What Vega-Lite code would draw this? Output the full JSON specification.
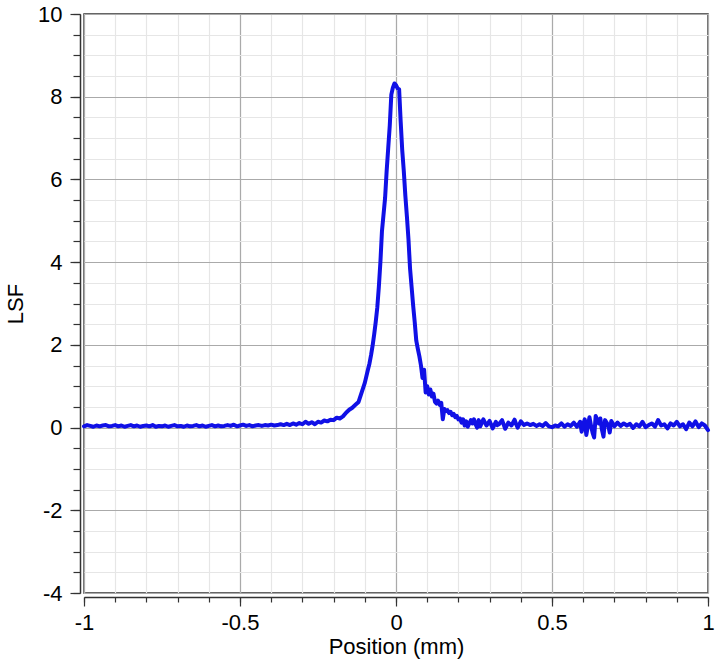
{
  "$schema": "https://vega.github.io/schema/vega-lite/v6.json",
  "width": 624,
  "height": 579,
  "autosize": {"type": "none"},
  "padding": {"left": 84, "top": 14, "right": 7, "bottom": 71},
  "background": "white",
  "config": {
    "view": {"stroke": "#333333", "strokeWidth": 1.5},
    "axis": {
      "labelFont": "Liberation Sans",
      "titleFont": "Liberation Sans",
      "labelFontSize": 22,
      "titleFontSize": 22,
      "titleFontWeight": "normal",
      "labelColor": "#000000",
      "titleColor": "#000000",
      "tickColor": "#333333",
      "domainColor": "#333333",
      "tickWidth": 1.2,
      "domainWidth": 1.5
    }
  },
  "data": {
    "values": [
      {"x": -1.00, "y": 0.03}, {"x": -0.99, "y": 0.06}, {"x": -0.98, "y": 0.04}, {"x": -0.97, "y": 0.02},
      {"x": -0.96, "y": 0.05}, {"x": -0.95, "y": 0.03}, {"x": -0.94, "y": 0.05}, {"x": -0.93, "y": 0.06},
      {"x": -0.92, "y": 0.03}, {"x": -0.91, "y": 0.04}, {"x": -0.90, "y": 0.06}, {"x": -0.89, "y": 0.03},
      {"x": -0.88, "y": 0.05}, {"x": -0.87, "y": 0.02}, {"x": -0.86, "y": 0.04}, {"x": -0.85, "y": 0.06},
      {"x": -0.84, "y": 0.03}, {"x": -0.83, "y": 0.05}, {"x": -0.82, "y": 0.02}, {"x": -0.81, "y": 0.04},
      {"x": -0.80, "y": 0.05}, {"x": -0.79, "y": 0.03}, {"x": -0.78, "y": 0.06}, {"x": -0.77, "y": 0.02},
      {"x": -0.76, "y": 0.04}, {"x": -0.75, "y": 0.03}, {"x": -0.74, "y": 0.05}, {"x": -0.73, "y": 0.02},
      {"x": -0.72, "y": 0.04}, {"x": -0.71, "y": 0.06}, {"x": -0.70, "y": 0.03}, {"x": -0.69, "y": 0.04},
      {"x": -0.68, "y": 0.02}, {"x": -0.67, "y": 0.05}, {"x": -0.66, "y": 0.03}, {"x": -0.65, "y": 0.04},
      {"x": -0.64, "y": 0.06}, {"x": -0.63, "y": 0.03}, {"x": -0.62, "y": 0.05}, {"x": -0.61, "y": 0.02},
      {"x": -0.60, "y": 0.04}, {"x": -0.59, "y": 0.06}, {"x": -0.58, "y": 0.03}, {"x": -0.57, "y": 0.05},
      {"x": -0.56, "y": 0.03}, {"x": -0.55, "y": 0.04}, {"x": -0.54, "y": 0.06}, {"x": -0.53, "y": 0.04},
      {"x": -0.52, "y": 0.07}, {"x": -0.51, "y": 0.03}, {"x": -0.50, "y": 0.05}, {"x": -0.49, "y": 0.07},
      {"x": -0.48, "y": 0.04}, {"x": -0.47, "y": 0.06}, {"x": -0.46, "y": 0.03}, {"x": -0.45, "y": 0.05},
      {"x": -0.44, "y": 0.06}, {"x": -0.43, "y": 0.04}, {"x": -0.42, "y": 0.06}, {"x": -0.41, "y": 0.05},
      {"x": -0.40, "y": 0.07}, {"x": -0.39, "y": 0.05}, {"x": -0.38, "y": 0.06}, {"x": -0.37, "y": 0.08},
      {"x": -0.36, "y": 0.06}, {"x": -0.35, "y": 0.09}, {"x": -0.34, "y": 0.06}, {"x": -0.33, "y": 0.10},
      {"x": -0.32, "y": 0.07}, {"x": -0.31, "y": 0.11}, {"x": -0.30, "y": 0.08}, {"x": -0.29, "y": 0.14},
      {"x": -0.28, "y": 0.09}, {"x": -0.27, "y": 0.13}, {"x": -0.26, "y": 0.08}, {"x": -0.25, "y": 0.14},
      {"x": -0.24, "y": 0.12}, {"x": -0.23, "y": 0.17}, {"x": -0.22, "y": 0.15}, {"x": -0.21, "y": 0.19},
      {"x": -0.20, "y": 0.18}, {"x": -0.19, "y": 0.24}, {"x": -0.18, "y": 0.22}, {"x": -0.17, "y": 0.27},
      {"x": -0.16, "y": 0.36}, {"x": -0.15, "y": 0.43}, {"x": -0.14, "y": 0.48}, {"x": -0.13, "y": 0.55},
      {"x": -0.12, "y": 0.62}, {"x": -0.11, "y": 0.85}, {"x": -0.10, "y": 1.08}, {"x": -0.09, "y": 1.40},
      {"x": -0.085, "y": 1.55}, {"x": -0.08, "y": 1.75}, {"x": -0.075, "y": 1.98}, {"x": -0.07, "y": 2.25},
      {"x": -0.065, "y": 2.55}, {"x": -0.06, "y": 2.90}, {"x": -0.055, "y": 3.40}, {"x": -0.05, "y": 4.00},
      {"x": -0.045, "y": 4.75}, {"x": -0.04, "y": 5.15}, {"x": -0.035, "y": 5.55}, {"x": -0.03, "y": 6.20},
      {"x": -0.025, "y": 6.75}, {"x": -0.02, "y": 7.30}, {"x": -0.015, "y": 8.05}, {"x": -0.01, "y": 8.22},
      {"x": -0.005, "y": 8.32}, {"x": 0.000, "y": 8.28}, {"x": 0.005, "y": 8.20}, {"x": 0.010, "y": 8.18},
      {"x": 0.015, "y": 7.40}, {"x": 0.020, "y": 6.70}, {"x": 0.025, "y": 6.20}, {"x": 0.030, "y": 5.60},
      {"x": 0.035, "y": 5.10}, {"x": 0.040, "y": 4.55}, {"x": 0.045, "y": 3.85}, {"x": 0.050, "y": 3.40},
      {"x": 0.055, "y": 2.95}, {"x": 0.060, "y": 2.55}, {"x": 0.065, "y": 2.10}, {"x": 0.070, "y": 1.90},
      {"x": 0.075, "y": 1.72}, {"x": 0.080, "y": 1.50}, {"x": 0.085, "y": 1.20}, {"x": 0.090, "y": 1.40},
      {"x": 0.095, "y": 0.85}, {"x": 0.100, "y": 1.00}, {"x": 0.105, "y": 0.80}, {"x": 0.110, "y": 0.92},
      {"x": 0.115, "y": 0.75}, {"x": 0.120, "y": 0.82}, {"x": 0.125, "y": 0.62}, {"x": 0.130, "y": 0.58},
      {"x": 0.135, "y": 0.65}, {"x": 0.140, "y": 0.55}, {"x": 0.145, "y": 0.60}, {"x": 0.150, "y": 0.20},
      {"x": 0.155, "y": 0.45}, {"x": 0.160, "y": 0.40}, {"x": 0.165, "y": 0.42}, {"x": 0.170, "y": 0.35},
      {"x": 0.175, "y": 0.38}, {"x": 0.180, "y": 0.30}, {"x": 0.185, "y": 0.33}, {"x": 0.190, "y": 0.25},
      {"x": 0.195, "y": 0.28}, {"x": 0.200, "y": 0.20}, {"x": 0.205, "y": 0.22}, {"x": 0.210, "y": 0.12},
      {"x": 0.215, "y": 0.20}, {"x": 0.220, "y": 0.05}, {"x": 0.225, "y": 0.15}, {"x": 0.230, "y": 0.02},
      {"x": 0.240, "y": 0.18}, {"x": 0.245, "y": 0.10}, {"x": 0.250, "y": 0.20}, {"x": 0.255, "y": 0.08},
      {"x": 0.260, "y": 0.00}, {"x": 0.265, "y": 0.18}, {"x": 0.27, "y": 0.03}, {"x": 0.28, "y": 0.20},
      {"x": 0.285, "y": 0.12}, {"x": 0.29, "y": 0.05}, {"x": 0.30, "y": 0.16}, {"x": 0.31, "y": -0.02},
      {"x": 0.32, "y": 0.14}, {"x": 0.325, "y": 0.06}, {"x": 0.33, "y": 0.08}, {"x": 0.34, "y": 0.18},
      {"x": 0.35, "y": -0.03}, {"x": 0.36, "y": 0.12}, {"x": 0.37, "y": 0.05}, {"x": 0.38, "y": 0.19},
      {"x": 0.385, "y": 0.08}, {"x": 0.39, "y": 0.00}, {"x": 0.40, "y": 0.15}, {"x": 0.41, "y": 0.06},
      {"x": 0.42, "y": 0.10}, {"x": 0.43, "y": 0.06}, {"x": 0.44, "y": 0.09}, {"x": 0.45, "y": 0.04},
      {"x": 0.46, "y": 0.08}, {"x": 0.47, "y": 0.04}, {"x": 0.48, "y": 0.11}, {"x": 0.49, "y": 0.03},
      {"x": 0.50, "y": 0.01}, {"x": 0.51, "y": 0.05}, {"x": 0.52, "y": 0.03}, {"x": 0.53, "y": 0.10},
      {"x": 0.54, "y": 0.02}, {"x": 0.55, "y": 0.08}, {"x": 0.56, "y": 0.04}, {"x": 0.57, "y": 0.12},
      {"x": 0.58, "y": 0.02}, {"x": 0.59, "y": 0.14}, {"x": 0.595, "y": -0.10}, {"x": 0.60, "y": 0.08},
      {"x": 0.605, "y": 0.20}, {"x": 0.61, "y": -0.18}, {"x": 0.62, "y": 0.25}, {"x": 0.625, "y": 0.05},
      {"x": 0.63, "y": -0.12}, {"x": 0.635, "y": -0.24}, {"x": 0.64, "y": 0.28}, {"x": 0.65, "y": 0.10},
      {"x": 0.655, "y": 0.22}, {"x": 0.66, "y": -0.05}, {"x": 0.665, "y": -0.22}, {"x": 0.67, "y": 0.18},
      {"x": 0.68, "y": 0.06}, {"x": 0.685, "y": -0.12}, {"x": 0.69, "y": 0.16}, {"x": 0.70, "y": 0.03},
      {"x": 0.71, "y": 0.12}, {"x": 0.72, "y": 0.04}, {"x": 0.73, "y": 0.10}, {"x": 0.74, "y": 0.05},
      {"x": 0.75, "y": 0.09}, {"x": 0.76, "y": -0.01}, {"x": 0.77, "y": 0.08}, {"x": 0.78, "y": 0.03},
      {"x": 0.79, "y": 0.14}, {"x": 0.80, "y": 0.01}, {"x": 0.81, "y": 0.06}, {"x": 0.82, "y": 0.10},
      {"x": 0.83, "y": 0.02}, {"x": 0.84, "y": 0.18}, {"x": 0.85, "y": 0.05}, {"x": 0.86, "y": 0.08},
      {"x": 0.87, "y": -0.02}, {"x": 0.88, "y": 0.10}, {"x": 0.89, "y": 0.05}, {"x": 0.90, "y": 0.14},
      {"x": 0.91, "y": 0.03}, {"x": 0.92, "y": 0.08}, {"x": 0.93, "y": -0.04}, {"x": 0.94, "y": 0.12},
      {"x": 0.95, "y": 0.03}, {"x": 0.96, "y": 0.15}, {"x": 0.97, "y": 0.01}, {"x": 0.98, "y": 0.10},
      {"x": 0.99, "y": 0.05}, {"x": 1.00, "y": -0.06}
    ]
  },
  "layer": [
    {
      "mark": {"type": "line", "strokeOpacity": 0},
      "encoding": {
        "x": {
          "field": "x", "type": "quantitative",
          "scale": {"domain": [-1, 1], "nice": false, "zero": false},
          "axis": {
            "orient": "bottom", "offset": 4, "title": null, "labels": false, "domain": false,
            "values": [-1, -0.9, -0.8, -0.7, -0.6, -0.5, -0.4, -0.3, -0.2, -0.1, 0, 0.1, 0.2, 0.3, 0.4, 0.5, 0.6, 0.7, 0.8, 0.9, 1],
            "tickSize": 5, "grid": true, "gridColor": "#e6e6e6", "gridWidth": 1.2
          }
        },
        "y": {
          "field": "y", "type": "quantitative",
          "scale": {"domain": [-4, 10], "nice": false, "zero": false},
          "axis": {
            "orient": "left", "offset": 4, "title": null, "labels": false, "domain": false,
            "values": [-4, -3.5, -3, -2.5, -2, -1.5, -1, -0.5, 0, 0.5, 1, 1.5, 2, 2.5, 3, 3.5, 4, 4.5, 5, 5.5, 6, 6.5, 7, 7.5, 8, 8.5, 9, 9.5, 10],
            "tickSize": 7, "grid": true, "gridColor": "#e6e6e6", "gridWidth": 1.2
          }
        }
      }
    },
    {
      "mark": {"type": "line", "color": "#1010e6", "strokeWidth": 4, "strokeJoin": "round", "strokeCap": "round"},
      "encoding": {
        "x": {
          "field": "x", "type": "quantitative",
          "scale": {"domain": [-1, 1], "nice": false, "zero": false},
          "axis": {
            "orient": "bottom", "offset": 4, "title": "Position (mm)",
            "values": [-1, -0.5, 0, 0.5, 1],
            "labelExpr": "datum.value < 0 ? '-' + format(-datum.value, '') : format(datum.value, '')",
            "tickSize": 9, "labelPadding": 6, "labelFlush": false, "titlePadding": 3,
            "grid": true, "gridColor": "#aaaaaa", "gridWidth": 1.2
          }
        },
        "y": {
          "field": "y", "type": "quantitative",
          "scale": {"domain": [-4, 10], "nice": false, "zero": false},
          "axis": {
            "orient": "left", "offset": 4, "title": "LSF",
            "values": [-4, -2, 0, 2, 4, 6, 8, 10],
            "labelExpr": "datum.value < 0 ? '-' + format(-datum.value, '') : format(datum.value, '')",
            "tickSize": 10, "labelPadding": 8, "labelFlush": false, "titlePadding": 10,
            "grid": true, "gridColor": "#aaaaaa", "gridWidth": 1.2
          }
        }
      }
    }
  ],
  "resolve": {"axis": {"x": "independent", "y": "independent"}}
}
